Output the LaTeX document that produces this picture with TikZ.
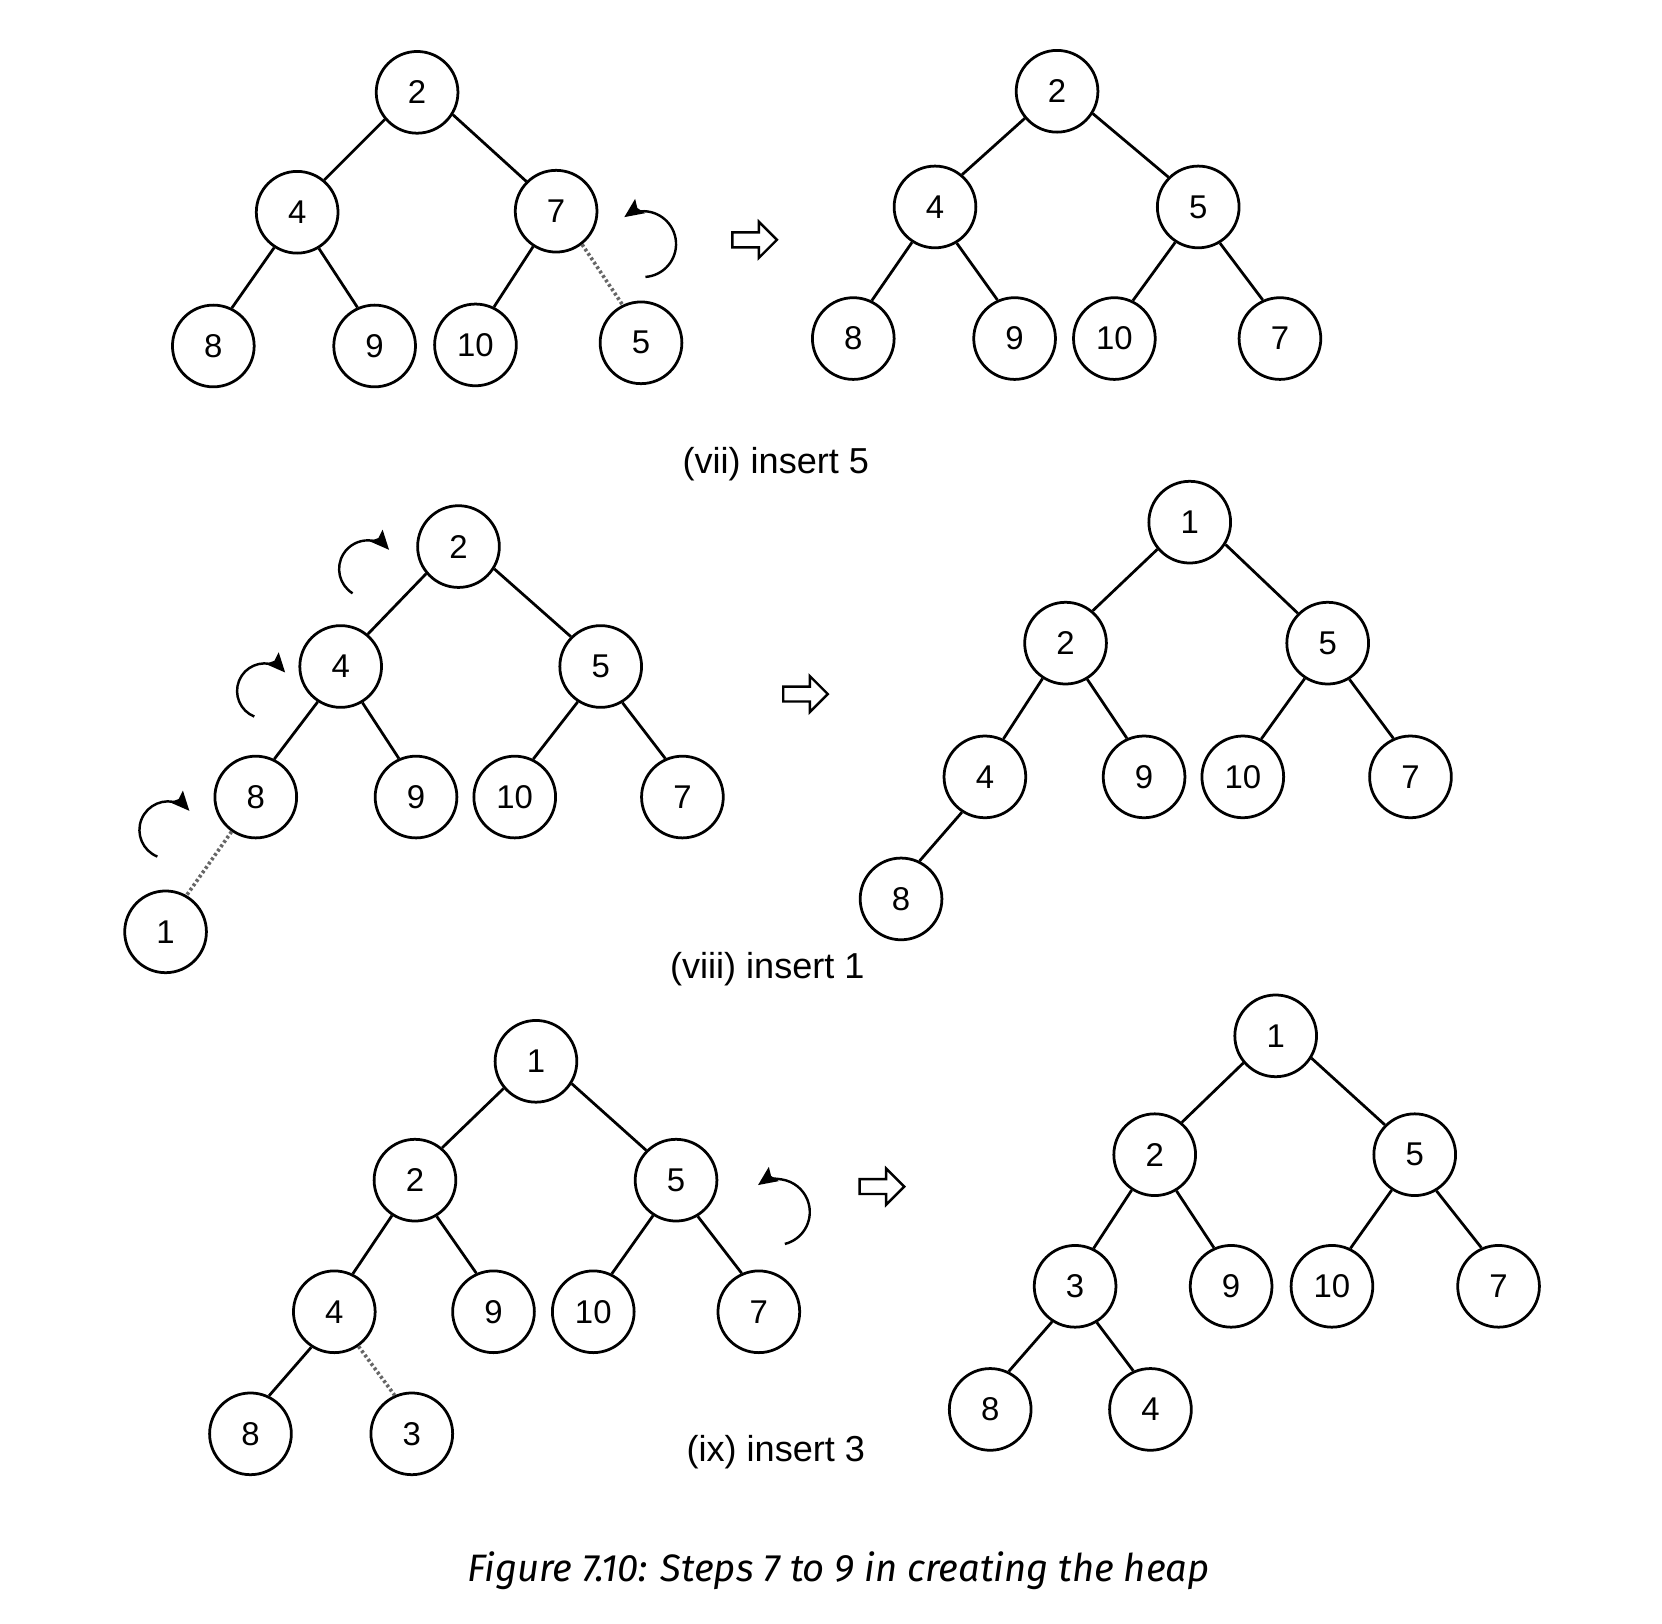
\documentclass[tikz,border=0pt]{standalone}
\usepackage{fontspec}
\setmainfont{Liberation Sans}
\newfontfamily\capfont{Fira Sans}
\usetikzlibrary{arrows.meta}
\tikzset{
  hn/.style={circle, draw, line width=2.6pt, minimum size=77pt, inner sep=0pt, font=\fontsize{31}{36}\selectfont},
  edge/.style={line width=2.6pt},
  dotedge/.style={line width=3.4pt, draw=gray!80!black, dash pattern=on 2.6pt off 2.4pt},
  curv/.style={line width=2.3pt, -{Stealth[length=18pt,width=16pt,inset=3pt]}},
  lbl/.style={font=\fontsize{34}{40}\selectfont, inner sep=0pt},
  harrow/.pic={\draw[line width=2.3pt, line join=miter] (-21,-7) -- (4,-7) -- (4,-17) -- (21,0) -- (4,17) -- (4,7) -- (-21,7) -- cycle;}
}
\newcommand\edgeTL[2]{\draw[edge] (#1.-140) -- (#2.50);}
\newcommand\edgeTR[2]{\draw[edge] (#1.-32) -- (#2.135);}
\newcommand\edgeBL[2]{\draw[edge] (#1.-123) -- (#2.64);}
\newcommand\edgeBR[2]{\draw[edge] (#1.-59) -- (#2.114);}
\begin{document}
\begin{tikzpicture}[x=1pt,y=-1pt]
\useasboundingbox[fill=white] (0,0) rectangle (1566,1530);

% ---------- (vii) left
\node[hn] (a2) at (393,87) {2};
\node[hn] (a4) at (280,200) {4};
\node[hn] (a7) at (524,199) {7};
\node[hn] (a8) at (201,326) {8};
\node[hn] (a9) at (353,326) {9};
\node[hn] (a10) at (448,325) {10};
\node[hn] (a5) at (604,323) {5};
\edgeTL{a2}{a4} \edgeTR{a2}{a7}
\edgeBL{a4}{a8} \edgeBR{a4}{a9}
\edgeBL{a7}{a10}
\draw[dotedge] (a7.-52) -- (a5.116);
\draw[curv] ([shift={(86:31)}]606,230) arc[start angle=86, end angle=-125, radius=31];
\pic at (711,226) {harrow};

% ---------- (vii) right
\node[hn] (b2) at (996,86) {2};
\node[hn] (b4) at (881,195) {4};
\node[hn] (b5) at (1129,195) {5};
\node[hn] (b8) at (804,319) {8};
\node[hn] (b9) at (956,319) {9};
\node[hn] (b10) at (1050,319) {10};
\node[hn] (b7) at (1206,319) {7};
\edgeTL{b2}{b4} \edgeTR{b2}{b5}
\edgeBL{b4}{b8} \edgeBR{b4}{b9}
\edgeBL{b5}{b10} \edgeBR{b5}{b7}

\node[lbl] (l1) at (731,437) {(vii) insert 5};

% ---------- (viii) left
\node[hn] (c2) at (432,515) {2};
\node[hn] (c4) at (321,628) {4};
\node[hn] (c5) at (566,628) {5};
\node[hn] (c8) at (241,751) {8};
\node[hn] (c9) at (392,751) {9};
\node[hn] (c10) at (485,751) {10};
\node[hn] (c7) at (643,751) {7};
\node[hn] (c1) at (156,878) {1};
\edgeTL{c2}{c4} \edgeTR{c2}{c5}
\edgeBL{c4}{c8} \edgeBR{c4}{c9}
\edgeBL{c5}{c10} \edgeBR{c5}{c7}
\draw[dotedge] (c8.-125) -- (c1.60);
\draw[curv] ([shift={(122:26)}]346,537) arc[start angle=122, end angle=318, radius=27];
\draw[curv] ([shift={(112:25)}]249,652) arc[start angle=112, end angle=318, radius=26];
\draw[curv] ([shift={(112:26)}]158,783) arc[start angle=112, end angle=318, radius=27];
\pic at (759,654) {harrow};

% ---------- (viii) right
\node[hn] (d1) at (1121,492) {1};
\node[hn] (d2) at (1004,606) {2};
\node[hn] (d5) at (1251,606) {5};
\node[hn] (d4) at (928,732) {4};
\node[hn] (d9) at (1078,732) {9};
\node[hn] (d10) at (1171,732) {10};
\node[hn] (d7) at (1329,732) {7};
\node[hn] (d8) at (849,847) {8};
\edgeTL{d1}{d2} \edgeTR{d1}{d5}
\edgeBL{d2}{d4} \edgeBR{d2}{d9}
\edgeBL{d5}{d10} \edgeBR{d5}{d7}
\edgeBL{d4}{d8}

\node[lbl] (l2) at (723,913) {(viii) insert 1};

% ---------- (ix) left
\node[hn] (e1) at (505,1000) {1};
\node[hn] (e2) at (391,1112) {2};
\node[hn] (e5) at (637,1112) {5};
\node[hn] (e4) at (315,1236) {4};
\node[hn] (e9) at (465,1236) {9};
\node[hn] (e10) at (559,1236) {10};
\node[hn] (e7) at (715,1236) {7};
\node[hn] (e8) at (236,1351) {8};
\node[hn] (e3) at (388,1351) {3};
\edgeTL{e1}{e2} \edgeTR{e1}{e5}
\edgeBL{e2}{e4} \edgeBR{e2}{e9}
\edgeBL{e5}{e10} \edgeBR{e5}{e7}
\edgeBL{e4}{e8}
\draw[dotedge] (e4.-55) -- (e3.114);
\draw[curv] ([shift={(76:31)}]732,1142) arc[start angle=76, end angle=-125, radius=31];
\pic at (831,1118) {harrow};

% ---------- (ix) right
\node[hn] (f1) at (1202,976) {1};
\node[hn] (f2) at (1088,1088) {2};
\node[hn] (f5) at (1333,1088) {5};
\node[hn] (f3) at (1013,1212) {3};
\node[hn] (f9) at (1160,1212) {9};
\node[hn] (f10) at (1255,1212) {10};
\node[hn] (f7) at (1412,1212) {7};
\node[hn] (f8) at (933,1328) {8};
\node[hn] (f4) at (1084,1328) {4};
\edgeTL{f1}{f2} \edgeTR{f1}{f5}
\edgeBL{f2}{f3} \edgeBR{f2}{f9}
\edgeBL{f5}{f10} \edgeBR{f5}{f7}
\edgeBL{f3}{f8} \edgeBR{f3}{f4}

\node[lbl] (l3) at (731,1368) {(ix) insert 3};

\node[font=\capfont\itshape\fontsize{36}{42}\selectfont, inner sep=0pt] (cap) at (790,1480) {Figure 7.10: Steps 7 to 9 in creating the heap};
\end{tikzpicture}
\end{document}
